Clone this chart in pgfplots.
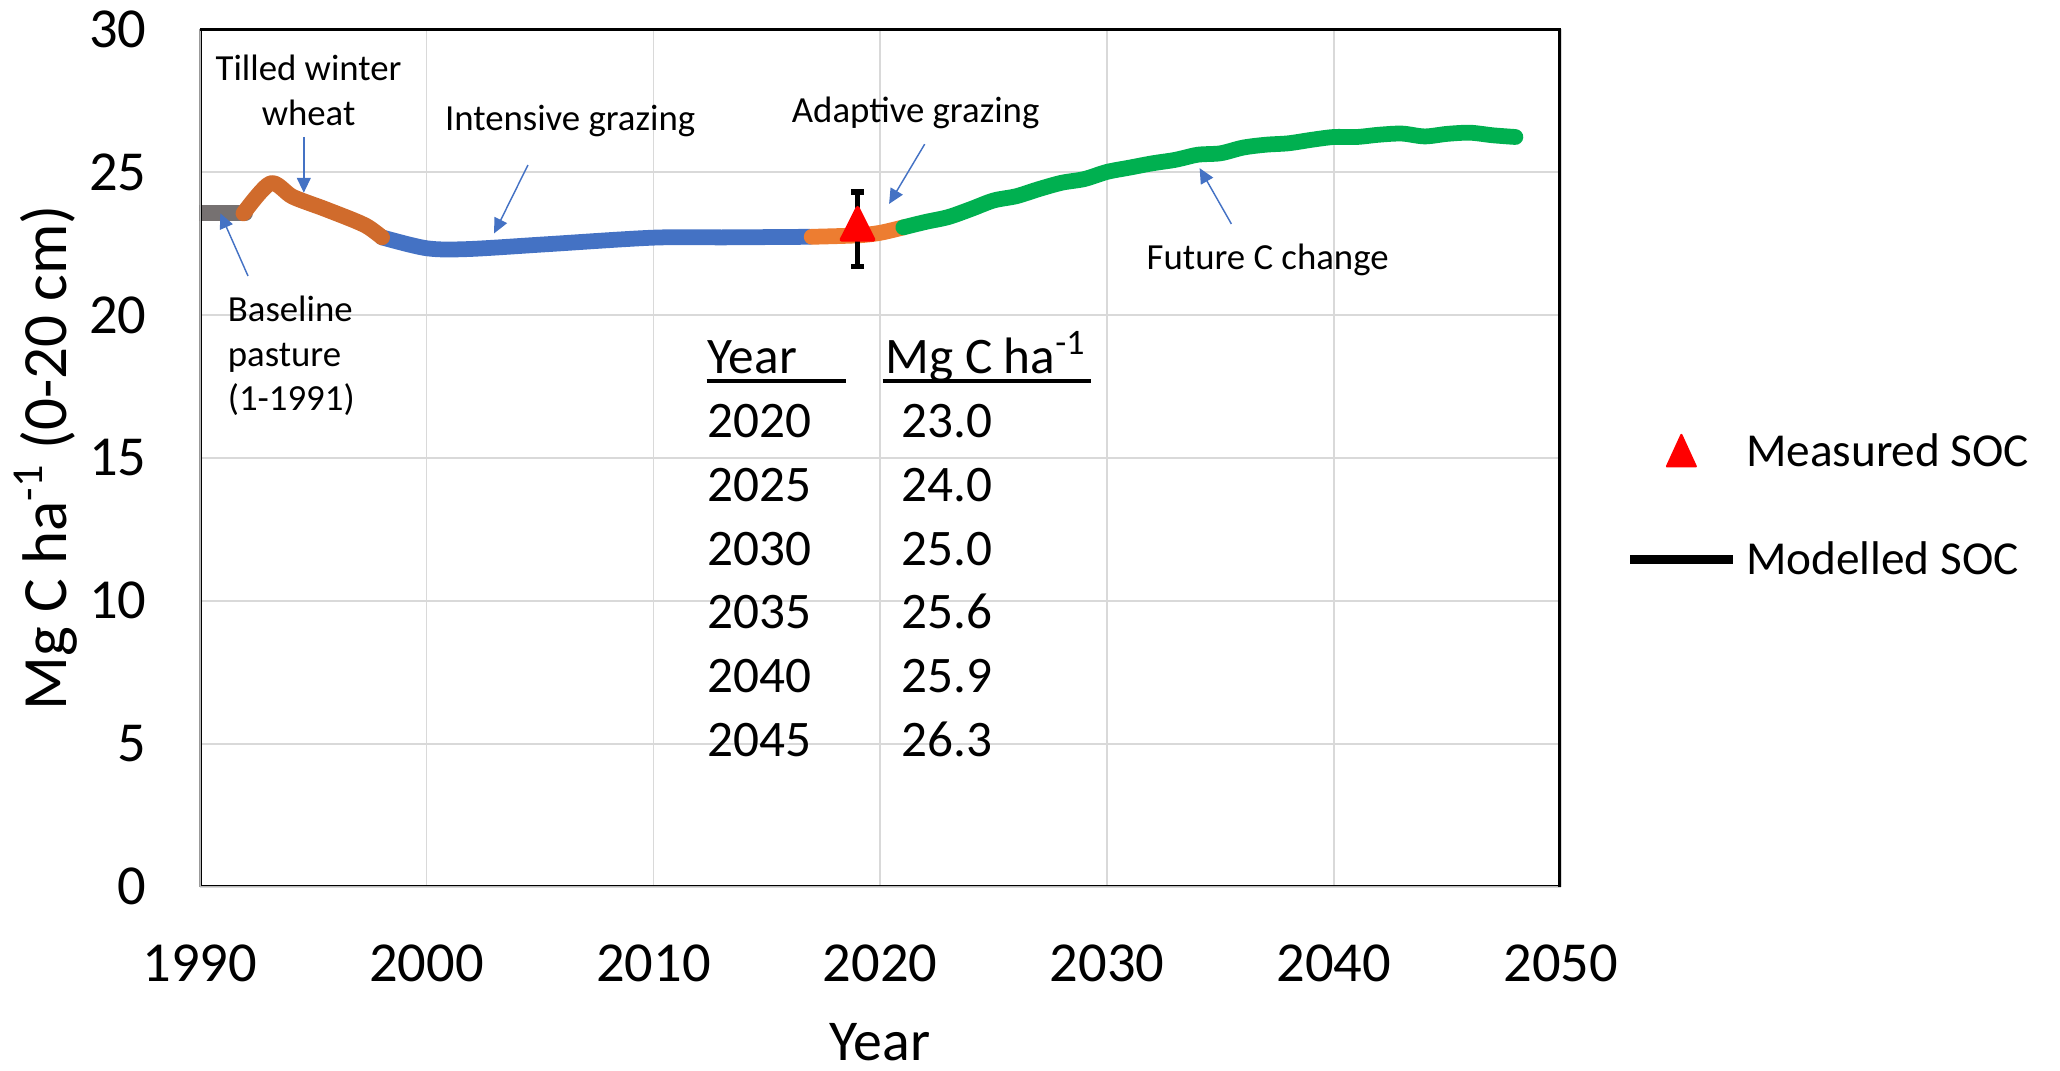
\documentclass[border=0pt]{standalone}
\usepackage{pgfplots}
\pgfplotsset{compat=1.18}
\usepackage{fontspec}
\setmainfont{Carlito}
\usetikzlibrary{arrows.meta}

\definecolor{gridgray}{HTML}{D9D9D9}
\definecolor{basegray}{HTML}{767171}
\definecolor{tilled}{HTML}{D06B2C}
\definecolor{intensive}{HTML}{4472C4}
\definecolor{adaptive}{HTML}{ED7D31}
\definecolor{future}{HTML}{00B050}
\definecolor{arrowblue}{HTML}{4472C4}

\tikzset{socline/.style={line width=6pt, line cap=round, line join=round}}

\begin{document}
\begin{tikzpicture}
\path[use as bounding box] (-76pt,-70pt) rectangle (708pt,337.5pt);
\begin{axis}[
  at={(0pt,0pt)}, anchor=south west,
  scale only axis, width=518pt, height=326.5pt,
  xmin=1990, xmax=2050, ymin=0, ymax=30,
  xtick={1990,2000,...,2050}, ytick={0,5,...,30},
  grid=major, major grid style={draw=gridgray, line width=0.6pt},
  axis line style={draw=none},
  major tick length=0pt,
  /pgf/number format/assume math mode=true,
  /pgf/number format/1000 sep={},
  tick label style={font=\fontsize{21.5}{26}\selectfont},
  xticklabel style={inner sep=0pt, anchor=north, yshift=-22pt},
  yticklabel style={inner sep=0pt, anchor=east, xshift=-20pt},
  xlabel={Year},
  ylabel={Mg C ha\textsuperscript{-1} (0-20 cm)},
  every axis x label/.style={at={(axis description cs:0.5,-0.181)}, anchor=center, inner sep=0pt, font=\fontsize{22}{26}\selectfont},
  every axis y label/.style={at={(axis description cs:-0.113,0.5)}, rotate=90, anchor=center, inner sep=0pt, font=\fontsize{24}{28}\selectfont},
  legend style={at={(axis description cs:1.0475,0.4441)}, anchor=west, draw=none, fill=none, inner sep=0pt,
    font=\fontsize{18}{22}\selectfont, row sep=27pt, nodes={inner sep=0pt},
    /tikz/every odd column/.append style={column sep=3.5pt}},
  legend cell align=left,
]

% legend entries
\addlegendimage{legend image code/.code={\draw[red, fill=red, line join=round, line width=0.8pt] (14pt,-5.5pt) -- (25pt,-5.5pt) -- (19.5pt,6.5pt) -- cycle;}}
\addlegendentry{Measured SOC}
\addlegendimage{legend image code/.code={\draw[black, line width=3.2pt] (0pt,0pt) -- (39pt,0pt);}}
\addlegendentry{Modelled SOC}

% baseline pasture
\addplot[forget plot, smooth, basegray, socline] coordinates {(1990,23.55) (1992,23.55)};
% intensive grazing
\addplot[forget plot, smooth, intensive, socline] coordinates {
 (1998.04,22.71) (2000.0,22.33) (2001.8,22.30) (2005.3,22.47) (2010.0,22.70)
 (2013.2,22.71) (2016.9,22.73)};
% tilled winter wheat
\addplot[forget plot, smooth, tilled, socline] coordinates {
 (1991.93,23.55) (1993.12,24.60) (1994.10,24.13) (1995.47,23.72) (1996.85,23.29)
 (1997.45,23.06) (1998.04,22.71)};
% adaptive grazing
\addplot[forget plot, smooth, adaptive, socline] coordinates {
 (2016.98,22.73) (2019.0,22.78) (2020.0,22.87) (2021.02,23.06)};
% future C change
\addplot[forget plot, smooth, future, socline] coordinates {
 (2021.02,23.06) (2022,23.25) (2023,23.42) (2024,23.70) (2025,24.00) (2026,24.15)
 (2027,24.40) (2028,24.62) (2029,24.75) (2030,25.00) (2031,25.15) (2032,25.30)
 (2033,25.42) (2034,25.60) (2035,25.65) (2036,25.85) (2037,25.95) (2038,26.00)
 (2039,26.12) (2040,26.22) (2041,26.22) (2042,26.30) (2043,26.34) (2044,26.24)
 (2045,26.33) (2046,26.37) (2047,26.28) (2048,26.22)};

% measured SOC with error bar
\addplot[forget plot, only marks, red, mark=triangle*, mark size=7pt,
  mark options={yscale=1.15, line width=1.5pt, line join=round, fill=red},
  error bars/.cd, y dir=both, y explicit,
  error mark=|,
  error bar style={draw=black, line width=2pt, line cap=butt},
  error mark options={draw=black, mark size=2.4pt, line width=2pt}]
  coordinates {(2019,23.0) +- (0,1.3)};

% frame
\draw[black, line width=0.5pt, double=gray!55, double distance=0.75pt]
  (rel axis cs:0,1) -- (rel axis cs:0,0) -- (rel axis cs:1,0);
\draw[black, line width=1.9pt] (rel axis cs:0,1) -- (rel axis cs:1,1) -- (rel axis cs:1,0);

% phase annotations
\begin{scope}[every node/.style={font=\fontsize{14}{17}\selectfont, inner sep=0pt}]
\node[align=center] at (axis cs:1994.8,27.84) {Tilled winter\\wheat};
\node at (axis cs:2006.33,26.78) {Intensive grazing};
\node at (axis cs:2021.56,27.06) {Adaptive grazing};
\node at (axis cs:2037.08,21.91) {Future C change};
\node[align=left, anchor=west] at (axis cs:1991.22,18.56) {Baseline\\pasture\\(1-1991)};
\end{scope}
\begin{scope}[arrowblue, line width=0.55pt, -{Triangle[length=5.7pt, width=5.3pt]}]
\draw (axis cs:1994.59,26.22) -- (axis cs:1994.59,24.27);
\draw (axis cs:1992.13,21.36) -- (axis cs:1990.91,23.55);
\draw (axis cs:2004.47,25.24) -- (axis cs:2002.98,22.85);
\draw (axis cs:2021.96,25.97) -- (axis cs:2020.39,23.88);
\draw (axis cs:2035.48,23.18) -- (axis cs:2034.08,25.13);
\end{scope}

% projected values table
\begin{scope}[every node/.style={font=\fontsize{19.5}{24}\selectfont, inner sep=0pt, anchor=base west}]
\node at (axis cs:2012.37,17.94) {Year};
\node at (axis cs:2020.21,17.94) {Mg C ha\textsuperscript{-1}};
\draw[line width=1.25pt] (axis cs:2012.35,17.69) -- (axis cs:2018.49,17.69);
\draw[line width=1.25pt] (axis cs:2020.11,17.69) -- (axis cs:2029.27,17.69);
\node at (axis cs:2012.37,15.72) {2020}; \node at (axis cs:2020.90,15.72) {23.0};
\node at (axis cs:2012.37,13.49) {2025}; \node at (axis cs:2020.90,13.49) {24.0};
\node at (axis cs:2012.37,11.25) {2030}; \node at (axis cs:2020.90,11.25) {25.0};
\node at (axis cs:2012.37,9.02) {2035};  \node at (axis cs:2020.90,9.02) {25.6};
\node at (axis cs:2012.37,6.79) {2040};  \node at (axis cs:2020.90,6.79) {25.9};
\node at (axis cs:2012.37,4.55) {2045};  \node at (axis cs:2020.90,4.55) {26.3};
\end{scope}
\end{axis}
\end{tikzpicture}
\end{document}
